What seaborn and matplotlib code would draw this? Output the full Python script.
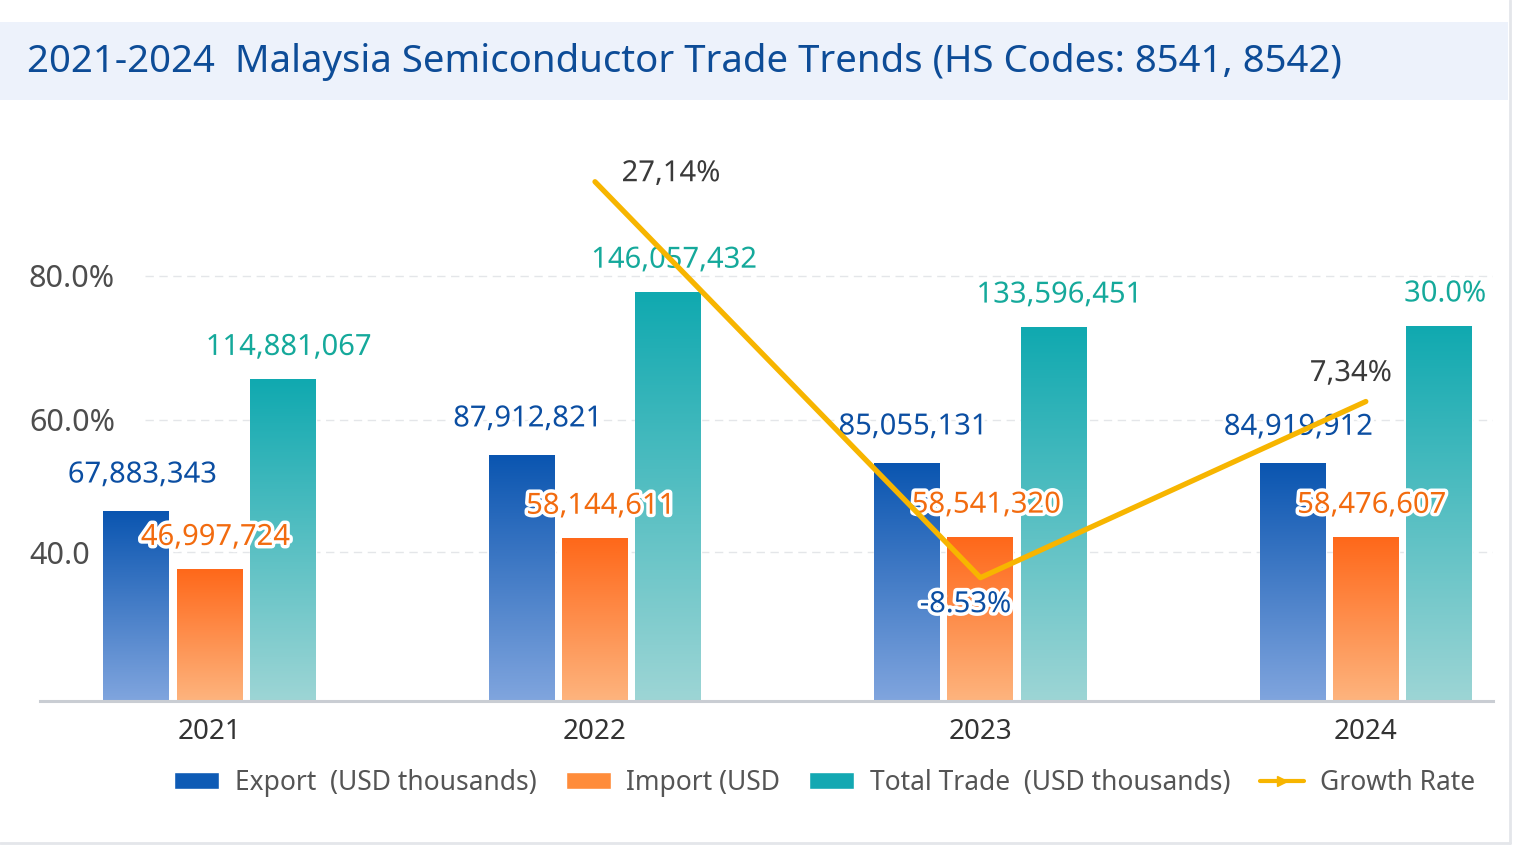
import numpy as np
import pandas as pd
import matplotlib
matplotlib.use("Agg")
import matplotlib.pyplot as plt
import matplotlib.patheffects as pe
from matplotlib.colors import LinearSegmentedColormap
from matplotlib.patches import Patch, Rectangle
from matplotlib.lines import Line2D
import seaborn as sns

# data (USD thousands)
years = ["2021", "2022", "2023", "2024"]
export_vals = [67883343, 87912821, 85055131, 84919912]
import_vals = [46997724, 58144611, 58541320, 58476607]
total_vals = [114881067, 146057432, 133596451, 134000000]
export_labels = ["67,883,343", "87,912,821", "85,055,131", "84,919,912"]
import_labels = ["46,997,724", "58,144,611", "58,541,320", "58,476,607"]
total_labels = ["114,881,067", "146,057,432", "133,596,451", "30.0%"]
growth_years = ["2022", "2023", "2024"]
growth_vals = [27.14, -8.53, 7.34]
growth_labels = ["27,14%", "-8.53%", "7,34%"]
ytick_vals = [53200000, 100400000, 152000000]
ytick_labels = ["40.0", "60.0%", "80.0%"]

series = ["Export  (USD thousands)", "Import (USD", "Total Trade  (USD thousands)"]

sns.set_theme(style="white")
plt.rcParams["font.family"] = ["Noto Sans", "DejaVu Sans"]

df = pd.DataFrame({
    "year": years * 3,
    "series": [series[0]] * 4 + [series[1]] * 4 + [series[2]] * 4,
    "value": export_vals + import_vals + total_vals,
})

fig = plt.figure(figsize=(15.36, 8.68), dpi=100)
fig.patch.set_facecolor("white")
W, H = 1536, 868

# title band + card edges
fig.patches.append(Rectangle((0, 1 - 100 / H), 1508 / W, 78 / H, transform=fig.transFigure,
                             facecolor="#EDF2FB", edgecolor="none", zorder=0))
fig.add_artist(Line2D([1510 / W, 1510 / W], [1 - 843 / H, 1], transform=fig.transFigure,
                      color="#E4E6EA", lw=2))
fig.add_artist(Line2D([0, 1510 / W], [1 - 843 / H, 1 - 843 / H], transform=fig.transFigure,
                      color="#E4E6EA", lw=2))
fig.text(27 / W, 1 - 62 / H, "2021-2024  Malaysia Semiconductor Trade Trends (HS Codes: 8541, 8542)",
         ha="left", va="center", fontsize=27.6, color="#0D4C97", weight="semibold")

ax = fig.add_axes([40 / W, 1 - 701 / H, (1493 - 40) / W, (701 - 130) / H])
ax.set_facecolor("none")

top_colors = ["#0A55B0", "#FF681A", "#10A9B0"]
bottom_colors = ["#80A5DE", "#FDB47E", "#9DD5D5"]

sns.barplot(data=df, x="year", y="value", hue="series", hue_order=series,
            palette=top_colors, width=0.57, gap=0.1, legend=False, ax=ax, zorder=2)

ax.set_xlim(-0.44, 3.33)
ax.set_ylim(0, 204000000)

# vertical gradients on the bars
grad = np.linspace(0, 1, 256).reshape(-1, 1)
for cont, c_top, c_bot in zip(ax.containers, top_colors, bottom_colors):
    cmap = LinearSegmentedColormap.from_list("g", [c_bot, c_top])
    for bar in cont:
        x0, w, h = bar.get_x(), bar.get_width(), bar.get_height()
        im = ax.imshow(grad, cmap=cmap, origin="lower", aspect="auto",
                       extent=[x0, x0 + w, 0, h], zorder=2.5)
        im.set_clip_path(bar)
ax.set_xlim(-0.44, 3.33)
ax.set_ylim(0, 204000000)

stroke = [pe.withStroke(linewidth=5, foreground="white")]

label_sets = [(export_labels, "#0B4EA2", 36), (import_labels, "#F26B0F", 32), (total_labels, "#15A99B", 32)]
for cont, (labels, col, dy) in zip(ax.containers, label_sets):
    for bar, lab in zip(cont, labels):
        ax.annotate(lab, (bar.get_x() + bar.get_width() / 2, bar.get_height()),
                    xytext=(6, dy), textcoords="offset pixels", ha="center", va="center",
                    fontsize=21, color=col, path_effects=stroke, zorder=6)

# gridlines
for v in ytick_vals:
    ax.axhline(v, xmin=0.072, xmax=1, color="#E4E6E9", lw=1, ls=(0, (6, 4)), zorder=0)

ax.set_yticks(ytick_vals, labels=ytick_labels)
ax.tick_params(axis="y", length=0, pad=8, labelsize=22, labelcolor="#4D4D4D")
for t in ax.get_yticklabels():
    t.set_ha("left")
ax.tick_params(axis="x", length=0, pad=12, labelsize=20, labelcolor="#333333")
ax.set_xlabel("")
ax.set_ylabel("")
for s in ["top", "right", "left"]:
    ax.spines[s].set_visible(False)
ax.spines["bottom"].set_color("#C9CDD3")
ax.spines["bottom"].set_linewidth(2.2)

# growth rate line on its own scale
ax2 = ax.twinx()
ax2.set_ylim(-19.64, 31.8)
gx = [years.index(y) for y in growth_years]
sns.lineplot(x=gx, y=growth_vals, ax=ax2, color="#F7B500", lw=3.8, zorder=4)
ax2.set_yticks([])
ax2.set_ylabel("")
for s in ax2.spines.values():
    s.set_visible(False)
ax2.set_xlim(-0.44, 3.33)

g_offsets = [(76, 8), (-15, -27), (-15, 28)]
g_colors = ["#3A3A3A", "#0B4EA2", "#3A3A3A"]
for xg, yg, lab, off, col in zip(gx, growth_vals, growth_labels, g_offsets, g_colors):
    ax2.annotate(lab, (xg, yg), xytext=off, textcoords="offset pixels", ha="center", va="center",
                 fontsize=21, color=col, path_effects=stroke, zorder=7)

handles = [Patch(facecolor="#0E5BB5"), Patch(facecolor="#FF8C3A"), Patch(facecolor="#13A8B2"),
           Line2D([0], [0], color="#F7B500", lw=3, marker=">", markersize=7)]
leg = fig.legend(handles, series + ["Growth Rate"], loc="center", bbox_to_anchor=(0.537, 0.098),
                 ncol=4, frameon=False, fontsize=19, handlelength=1.7, handleheight=0.6,
                 columnspacing=1.1, handletextpad=0.6)
for t in leg.get_texts():
    t.set_color("#555555")

fig.savefig("out.png", dpi=100)
